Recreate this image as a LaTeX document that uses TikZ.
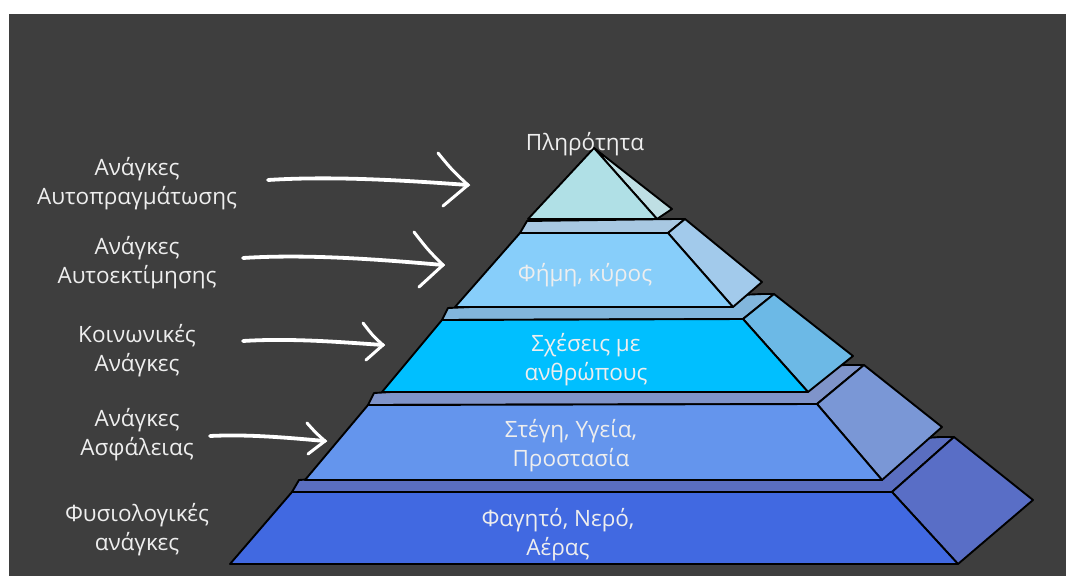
\documentclass[tikz,border=0pt]{standalone}
\usepackage{fontspec}
\setmainfont{Open Sans}
\definecolor{bg}{HTML}{3E3E3E}
\definecolor{txt}{HTML}{EEEEEE}
\definecolor{lAfront}{HTML}{B0E0E6}
\definecolor{lAside}{HTML}{BFDFE4}
\definecolor{lBfront}{HTML}{87CEFA}
\definecolor{lBside}{HTML}{A2CAEB}
\definecolor{lBtop}{HTML}{A8C8E2}
\definecolor{lCfront}{HTML}{00BFFF}
\definecolor{lCside}{HTML}{6CB9E6}
\definecolor{lCtop}{HTML}{82B6DC}
\definecolor{lDfront}{HTML}{6495ED}
\definecolor{lDside}{HTML}{7A97D6}
\definecolor{lDtop}{HTML}{7F94CA}
\definecolor{lEfront}{HTML}{4169E1}
\definecolor{lEside}{HTML}{596EC6}
\definecolor{lEtop}{HTML}{5A6EC0}
\begin{document}
\begin{tikzpicture}[x=1pt,y=-1pt,
  face/.style={draw=black,line width=1.9pt,line join=round},
  lbl/.style={text=txt,font=\fontsize{22.5}{29}\selectfont,align=center,inner sep=0pt},
  shaft/.style={draw=white,line width=3.8pt,line cap=round},
  head/.style={draw=white,line width=3pt,line cap=round}]
\useasboundingbox (0,0) rectangle (1066,576);
\fill[white] (0,0) rectangle (1066,576);
\fill[bg] (9,14) rectangle (1066,576);
% level E (bottom)
\filldraw[face,fill=lEtop] (292,492) -- (299,480) -- (940,437) -- (954,437) -- (892,492) -- cycle;
\filldraw[face,fill=lEside] (892,492) -- (954,437) -- (1033,500) -- (958,564) -- cycle;
\filldraw[face,fill=lEfront] (230,564) -- (958,564) -- (892,492) -- (292,492) -- cycle;
% level D
\filldraw[face,fill=lDtop] (368,405) -- (374,393) -- (845,365) -- (864,365) -- (817,404) -- cycle;
\filldraw[face,fill=lDside] (817,404) -- (864,365) -- (942,427) -- (882,480) -- cycle;
\filldraw[face,fill=lDfront] (305,480) -- (882,480) -- (817,404) -- (368,405) -- cycle;
% level C
\filldraw[face,fill=lCtop] (442,320) -- (448,308) -- (762,294) -- (774,294) -- (743,319) -- cycle;
\filldraw[face,fill=lCside] (743,319) -- (774,294) -- (853,356) -- (808,392) -- cycle;
\filldraw[face,fill=lCfront] (382,392) -- (808,392) -- (743,319) -- (442,320) -- cycle;
% level B
\filldraw[face,fill=lBtop] (520,233) -- (527,221) -- (675,219) -- (685,219) -- (668,233) -- cycle;
\filldraw[face,fill=lBside] (668,233) -- (685,219) -- (762,282) -- (733,307) -- cycle;
\filldraw[face,fill=lBfront] (455,307) -- (733,307) -- (668,233) -- (520,233) -- cycle;
% level A (apex)
\filldraw[face,fill=lAside] (594,148) -- (672,209) -- (657,219) -- cycle;
\filldraw[face,fill=lAfront] (528,219) -- (657,219) -- (594,148) -- cycle;
% texts
\node[lbl] (tA) at (585,144) {Πληρότητα};
\node[lbl] (tB) at (585,275) {Φήμη, κύρος};
\node[lbl] (tC) at (586,360) {Σχέσεις με\\ανθρώπους};
\node[lbl] (tD) at (571,446) {Στέγη, Υγεία,\\Προστασία};
\node[lbl] (tE) at (558,535) {Φαγητό, Νερό,\\Αέρας};
\node[lbl] (nA) at (137,184) {Ανάγκες\\Αυτοπραγμάτωσης};
\node[lbl] (nB) at (137,263) {Ανάγκες\\Αυτοεκτίμησης};
\node[lbl] (nC) at (137,351) {Κοινωνικές\\Ανάγκες};
\node[lbl] (nD) at (137,435) {Ανάγκες\\Ασφάλειας};
\node[lbl] (nE) at (137,530) {Φυσιολογικές\\ανάγκες};
% arrows
\coordinate (a1s) at (268,180); \coordinate (a1t) at (468,185);
\coordinate (a2s) at (243,258); \coordinate (a2t) at (443,265);
\coordinate (a3s) at (243,341); \coordinate (a3t) at (383,345);
\coordinate (a4s) at (210,436); \coordinate (a4t) at (325,441);
\draw[shaft] (a1s) .. controls (330,176) and (400,180) .. (a1t);
\draw[head] (438,153) .. controls (452,170) .. (a1t) -- (443,206);
\draw[shaft] (a2s) .. controls (305,254) and (375,259) .. (a2t);
\draw[head] (414,232) .. controls (428,250) .. (a2t) -- (419,287);
\draw[shaft] (a3s) .. controls (290,338) and (340,342) .. (a3t);
\draw[head] (363,323) .. controls (373,336) .. (a3t) -- (366,360);
\draw[shaft] (a4s) .. controls (250,434) and (290,438) .. (a4t);
\draw[head] (307,423) .. controls (316,433) .. (a4t) -- (308,454);
\end{tikzpicture}
\end{document}
